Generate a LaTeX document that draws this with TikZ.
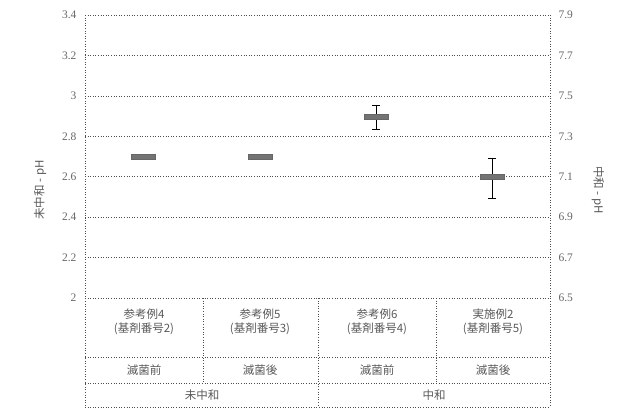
\documentclass[tikz,border=0pt]{standalone}
\usepackage{fontspec}
\setmainfont{Liberation Serif}
\newfontfamily\cjk{Noto Sans CJK JP}
\usetikzlibrary{patterns}
\begin{document}
\begin{tikzpicture}[x=1pt,y=-1pt,
  grid/.style={dotted,line width=0.6pt,black!70},
  lbl/.style={font=\cjk\fontsize{11.5}{14}\selectfont,text=black!65,align=center},
  num/.style={font=\fontsize{11.5}{14}\selectfont,text=black!60},
  mk/.style={fill=black!55,draw=black!60,line width=0.3pt},
  eb/.style={line width=0.6pt}]
\useasboundingbox (0,0) rectangle (622,417);
\foreach \i/\l/\r in {0/2/6.5,1/2.2/6.7,2/2.4/6.9,3/2.6/7.1,4/2.8/7.3,5/3/7.5,6/3.2/7.7,7/3.4/7.9}{
  \draw[grid] (85,{298-40.43*\i}) -- (550,{298-40.43*\i});
  \node[num,anchor=east] (l\i) at (80,{298-40.43*\i}) {\l};
  \node[num,anchor=west] (r\i) at (555,{298-40.43*\i}) {\r};
}
\draw[grid] (85,15) -- (85,407);
\draw[grid] (550,15) -- (550,407);
\draw[grid] (85,357) -- (550,357);
\draw[grid] (85,383) -- (550,383);
\draw[grid] (85,407) -- (550,407);
\draw[grid] (203,298) -- (203,383);
\draw[grid] (436,298) -- (436,383);
\draw[grid] (318,298) -- (318,407);
\node[lbl] (c1) at (144,322) {参考例4\\(基剤番号2)};
\node[lbl] (c2) at (260,322) {参考例5\\(基剤番号3)};
\node[lbl] (c3) at (377,322) {参考例6\\(基剤番号4)};
\node[lbl] (c4) at (493,322) {実施例2\\(基剤番号5)};
\node[lbl] (s1) at (144,370) {滅菌前};
\node[lbl] (s2) at (260,370) {滅菌後};
\node[lbl] (s3) at (377,370) {滅菌前};
\node[lbl] (s4) at (493,370) {滅菌後};
\node[lbl] (n1) at (202,395) {未中和};
\node[lbl] (n2) at (434,395) {中和};
\node[lbl,rotate=90] (ya) at (40,190) {未中和 - pH};
\node[lbl,rotate=-90] (yb) at (598,190) {中和 - pH};
% error bars
\draw[eb] (376,105) -- (376,129) (372,105) -- (380,105) (372,129) -- (380,129);
\draw[eb] (492,158) -- (492,198) (488,158) -- (496,158) (488,198) -- (496,198);
\path[mk] (131,154.5) rectangle (155,159.5);
\path[mk] (248,154.5) rectangle (272,159.5);
\path[mk] (364,114.5) rectangle (388,119.5);
\path[mk] (480,174.5) rectangle (504,179.5);
\end{tikzpicture}
\end{document}
